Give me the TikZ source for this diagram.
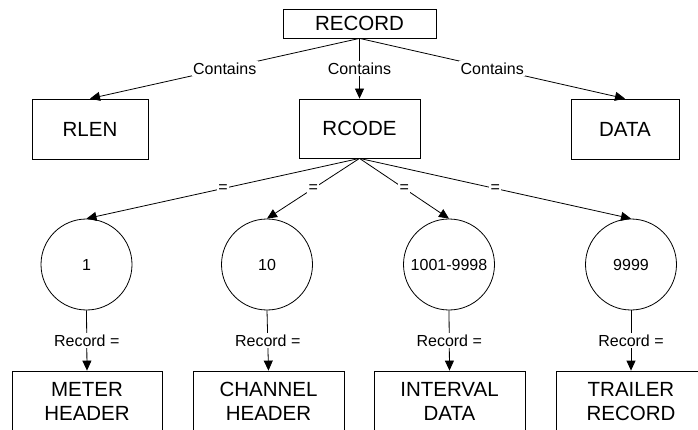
\documentclass[tikz,border=0pt]{standalone}
\usepackage{fontspec}
\setmainfont{Liberation Sans}
\usetikzlibrary{arrows.meta}
\begin{document}
\begin{tikzpicture}[x=1pt,y=-1pt,
  box/.style={draw, line width=0.8pt, fill=white, align=center, inner sep=0pt,
    font=\fontsize{20.5}{24}\selectfont},
  val/.style={draw, circle, minimum size=91pt, inner sep=0pt, line width=0.8pt,
    font=\fontsize{16}{19}\selectfont},
  lbl/.style={fill=white, inner sep=1.5pt, font=\fontsize{16}{19}\selectfont},
  link/.style={line width=0.8pt, -{Triangle[length=10pt,width=9pt]}}
]
\useasboundingbox (0,0) rectangle (698,430);

% record and its fields
\node[box, minimum width=153pt, minimum height=29pt] (record) at (359.5,23.5) {RECORD};
\node[box, minimum width=116pt, minimum height=60pt] (rlen) at (90,129) {RLEN};
\node[box, minimum width=121pt, minimum height=59pt] (rcode) at (359.5,128.5) {RCODE};
\node[box, minimum width=108pt, minimum height=60pt] (data) at (625,129) {DATA};

% record code values
\node[val] (v1) at (86.5,264.5) {1};
\node[val] (v2) at (267,264.5) {10};
\node[val] (v3) at (449,264.5) {1001-9998};
\node[val] (v4) at (631,264.5) {9999};

% record types
\node[box, minimum width=150pt, minimum height=61pt] (meter) at (87,401.5) {METER\\HEADER};
\node[box, minimum width=151pt, minimum height=61pt] (channel) at (268.5,401.5) {CHANNEL\\HEADER};
\node[box, minimum width=151pt, minimum height=61pt] (interval) at (449.5,401.5) {INTERVAL\\DATA};
\node[box, minimum width=150pt, minimum height=61pt] (trailer) at (631,401.5) {TRAILER\\RECORD};

% connectors
\draw[link] (record.south) -- node[lbl] {Contains} (rlen.north);
\draw[link] (record.south) -- node[lbl] {Contains} (rcode.north);
\draw[link] (record.south) -- node[lbl] {Contains} (data.north);

\draw[link] (rcode.south) -- node[lbl] {=} (v1.north);
\draw[link] (rcode.south) -- node[lbl] {=} (v2.north);
\draw[link] (rcode.south) -- node[lbl] {=} (v3.north);
\draw[link] (rcode.south) -- node[lbl] {=} (v4.north);

\draw[link] (v1.south) -- node[lbl] {Record =} (meter.north);
\draw[link] (v2.south) -- node[lbl] {Record =} (channel.north);
\draw[link] (v3.south) -- node[lbl] {Record =} (interval.north);
\draw[link] (v4.south) -- node[lbl] {Record =} (trailer.north);
\end{tikzpicture}
\end{document}
